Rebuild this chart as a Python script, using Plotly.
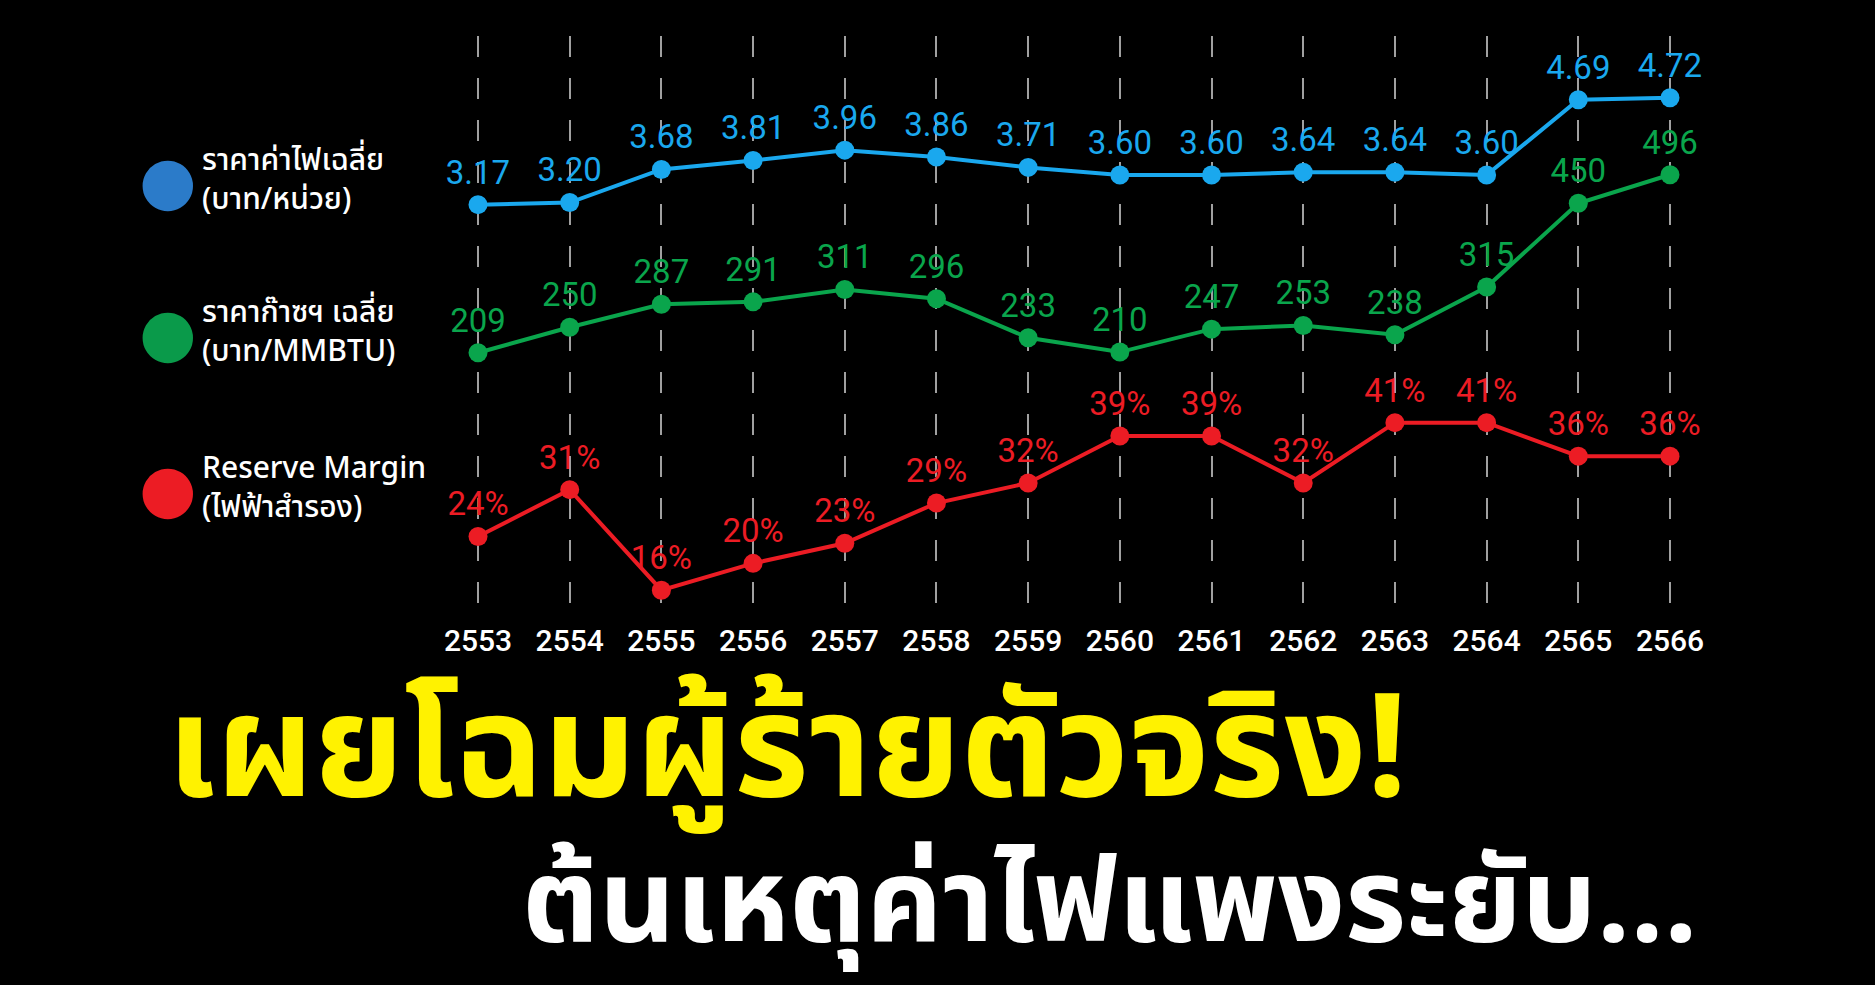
import plotly.graph_objects as go

years = ["2553", "2554", "2555", "2556", "2557", "2558", "2559",
         "2560", "2561", "2562", "2563", "2564", "2565", "2566"]
power_price = [3.17, 3.20, 3.68, 3.81, 3.96, 3.86, 3.71, 3.60, 3.60, 3.64, 3.64, 3.60, 4.69, 4.72]
gas_price = [209, 250, 287, 291, 311, 296, 233, 210, 247, 253, 238, 315, 450, 496]
reserve_margin = [24, 31, 16, 20, 23, 29, 32, 39, 39, 32, 41, 41, 36, 36]

legend_labels = ["ราคาค่าไฟเฉลี่ย<br>(บาท/หน่วย)",
                 "ราคาก๊าซฯ เฉลี่ย<br>(บาท/MMBTU)",
                 "Reserve Margin<br>(ไฟฟ้าสำรอง)"]
title_1 = "เผยโฉมผู้ร้ายตัวจริง!"
title_2 = "ต้นเหตุค่าไฟแพงระยับ..."

W, H = 1875, 985
THAI = "Noto Sans Thai, Noto Sans Thai Looped, Noto Sans, sans-serif"
NUM = "Roboto, Inter, sans-serif"

BLUE, GREEN, RED = "#1aa8ee", "#0aa54c", "#ec1c24"
x = list(range(len(years)))

fig = go.Figure()
series = [
    (power_price, [f"{v:.2f}" for v in power_price], BLUE, "y"),
    (gas_price, [str(v) for v in gas_price], GREEN, "y2"),
    (reserve_margin, [f"{v}%" for v in reserve_margin], RED, "y3"),
]
for vals, txt, col, ax in series:
    fig.add_trace(go.Scatter(
        x=x, y=vals, yaxis=ax, mode="lines+markers+text",
        line=dict(color=col, width=4),
        marker=dict(color=col, size=19),
        text=txt, textposition="top center",
        textfont=dict(color=col, size=33, family=NUM),
        cliponaxis=False, showlegend=False, hoverinfo="skip",
    ))


def py(p):
    return 1 - p / H


dom = [py(610), py(36)]
fig.update_layout(
    width=W, height=H,
    paper_bgcolor="black", plot_bgcolor="black",
    margin=dict(l=0, r=0, t=0, b=0),
    xaxis=dict(
        range=[-478 / 91.69, 13 + (W - 1670) / 91.69],
        tickmode="array", tickvals=x, ticktext=years,
        tickfont=dict(color="white", size=30, family=NUM, weight=500),
        showgrid=True, gridcolor="#a0a0a0", gridwidth=1.5, griddash="21px,21px",
        zeroline=False, showline=False,
        ticks="outside", ticklen=4, tickcolor="rgba(0,0,0,0)",
        anchor="y",
    ),
    yaxis=dict(domain=dom, range=[-2.704, 5.614], visible=False),
    yaxis2=dict(overlaying="y", range=[-206, 719.8], visible=False),
    yaxis3=dict(overlaying="y", range=[13.04, 98.7], visible=False),
)

legend_cols = ["#2b7bc9", "#0a9a4a", "#ec1c24"]
legend_y = [180, 332, 488]
for lab, col, yy in zip(legend_labels, legend_cols, legend_y):
    fig.add_annotation(xref="paper", yref="paper", x=168 / W, y=py(yy),
                       text="●", showarrow=False, xanchor="center", yanchor="middle",
                       font=dict(color=col, size=66, family="DejaVu Sans"))
    fig.add_annotation(xref="paper", yref="paper", x=200 / W, y=py(yy),
                       text=lab, showarrow=False, xanchor="left", yanchor="middle",
                       align="left", font=dict(color="white", size=30, family=THAI, weight=500))

fig.add_annotation(xref="paper", yref="paper", x=165 / W, y=py(752),
                   text=f"<b>{title_1}</b>", showarrow=False, xanchor="left", yanchor="middle",
                   font=dict(color="#fff200", size=144, family=THAI))
fig.add_annotation(xref="paper", yref="paper", x=1700 / W, y=py(905),
                   text=f"<b>{title_2}</b>", showarrow=False, xanchor="right", yanchor="middle",
                   font=dict(color="white", size=118, family=THAI))

fig.write_html("out.html", config={"displayModeBar": False},
               post_script="document.body.style.margin='0';document.body.style.background='black';")
